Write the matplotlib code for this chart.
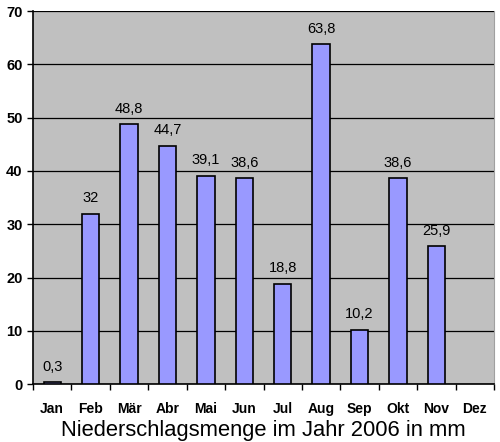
import matplotlib.pyplot as plt
import numpy as np

months = ["Jan", "Feb", "Mär", "Abr", "Mai", "Jun", "Jul", "Aug", "Sep", "Okt", "Nov", "Dez"]
rain = [0.3, 32, 48.8, 44.7, 39.1, 38.6, 18.8, 63.8, 10.2, 38.6, 25.9, None]
labels = ["0,3", "32", "48,8", "44,7", "39,1", "38,6", "18,8", "63,8", "10,2", "38,6", "25,9", ""]

plt.rcParams['font.family'] = ['Liberation Sans', 'DejaVu Sans']

fig = plt.figure(figsize=(5, 4.42), dpi=100)
ax = fig.add_axes([0.066, 0.131, 0.922, 0.844])
ax.set_facecolor("#C0C0C0")

x = np.arange(len(months))
vals = [v if v is not None else 0 for v in rain]
bars = ax.bar(x[:11], vals[:11], width=0.45, color="#9999FF", edgecolor="black", linewidth=1.2, zorder=3)

for xi, v, lab in zip(x, vals, labels):
    if lab:
        ax.text(xi, v + 1.6, lab, ha="center", va="bottom", fontsize=10.5, zorder=4)

ax.set_xlim(-0.5, 11.5)
ax.set_ylim(0, 70)
ax.set_yticks(range(0, 71, 10))
ax.yaxis.grid(True, color="black", linewidth=0.9, zorder=1)
ax.set_axisbelow(True)

ax.set_xticks(x)
ax.set_xticklabels(months, fontweight="bold", fontsize=10)
ax.set_xticks(np.arange(-0.5, 12, 1), minor=True)
ax.tick_params(axis="x", which="major", length=0, pad=13)
ax.tick_params(axis="x", which="minor", length=4, direction="out", width=1)
ax.tick_params(axis="y", length=4, width=1, labelsize=10.5)
for t in ax.get_yticklabels():
    t.set_fontweight("bold")

ax.spines["top"].set_visible(False)
ax.spines["right"].set_color("#A0A0A0")
ax.spines["left"].set_linewidth(1.2)
ax.spines["bottom"].set_linewidth(1.2)

ax.set_xlabel("Niederschlagsmenge im Jahr 2006 in mm", fontsize=15.8, labelpad=3)

fig.savefig("out.png", dpi=100)
